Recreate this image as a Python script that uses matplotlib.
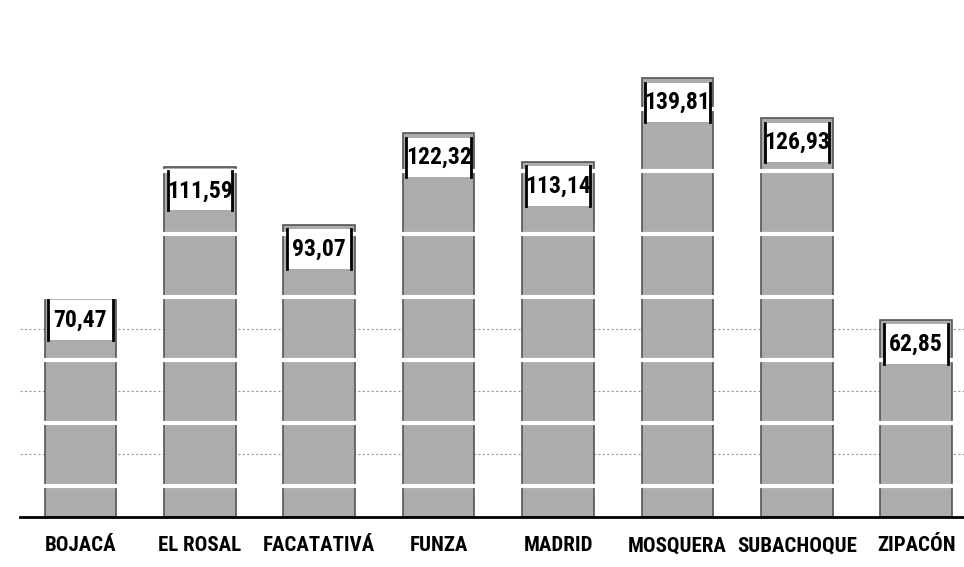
import numpy as np
import matplotlib.pyplot as plt
from matplotlib.patches import Rectangle

municipios = ['BOJACÁ', 'EL ROSAL', 'FACATATIVÁ', 'FUNZA', 'MADRID', 'MOSQUERA', 'SUBACHOQUE', 'ZIPACÓN']
valores = [70.47, 111.59, 93.07, 122.32, 113.14, 139.81, 126.93, 62.85]

plt.rcParams['font.family'] = ['Roboto Condensed', 'Barlow Condensed', 'Archivo Narrow', 'DejaVu Sans']

fig = plt.figure(figsize=(9.64, 5.67), dpi=100)
ax = fig.add_axes([20 / 964, 50 / 567, 944 / 964, 517 / 567])

x = np.arange(len(municipios))
w = 0.6

# faint gridlines behind bars
for g in [20, 40, 60]:
    ax.axhline(g, color='#9a9a9a', lw=0.8, ls=(0, (2, 2)), zorder=0)

ax.bar(x, valores, width=w, color='#acacac', edgecolor='#555555', lw=1.2, zorder=2)

# white bands across the bars
for b in range(10, 140, 20):
    for xi, v in zip(x, valores):
        if v > b:
            ax.plot([xi - w / 2, xi + w / 2], [b, b], color='white', lw=3, zorder=3)

# value boxes at the top of each bar
for xi, v in zip(x, valores):
    ins = 0.03
    top = v - 1.5
    bot = v - 14
    ax.add_patch(Rectangle((xi - w / 2 + ins, bot), w - 2 * ins, top - bot,
                           facecolor='white', edgecolor='none', zorder=4))
    for s in (-1, 1):
        xx = xi + s * (w / 2 - ins)
        ax.plot([xx, xx], [bot, top], color='black', lw=2, zorder=5)
    ax.text(xi, (top + bot) / 2, f'{v:.2f}'.replace('.', ','), ha='center', va='center',
            fontsize=17, fontweight='bold', zorder=6)

ax.set_xlim(-0.506, 7.4)
ax.set_ylim(0, 164.6)
ax.set_xticks(x)
ax.set_xticklabels(municipios, fontsize=15, fontweight='bold')
ax.tick_params(axis='x', length=0, pad=14)
ax.set_yticks([])
for s in ['top', 'right', 'left']:
    ax.spines[s].set_visible(False)
ax.spines['bottom'].set_linewidth(2)
ax.spines['bottom'].set_zorder(7)

fig.savefig('out.png', dpi=100)
